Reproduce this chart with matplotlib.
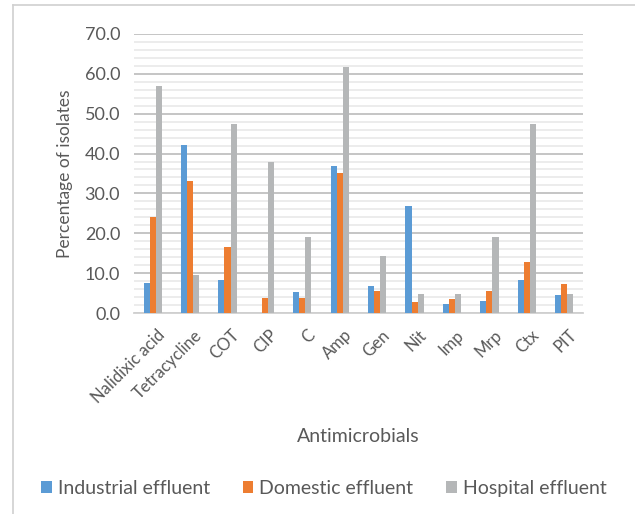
import matplotlib.pyplot as plt
import matplotlib.transforms as mtrans
import numpy as np
from matplotlib.lines import Line2D
from matplotlib.ticker import MultipleLocator, FormatStrFormatter

plt.rcParams['font.family'] = ['Lato', 'DejaVu Sans']

drugs = ['Nalidixic acid', 'Tetracycline', 'COT', 'CIP', 'C', 'Amp',
         'Gen', 'Nit', 'Imp', 'Mrp', 'Ctx', 'PIT']
industrial = [7.6, 42.1, 8.4, 0.0, 5.3, 36.8, 6.8, 26.8, 2.3, 3.0, 8.4, 4.5]
domestic = [24.0, 33.1, 16.6, 3.7, 3.7, 35.1, 5.5, 2.8, 3.6, 5.5, 12.9, 7.3]
hospital = [57.0, 9.5, 47.4, 37.9, 19.0, 61.8, 14.2, 4.7, 4.7, 19.0, 47.4, 4.7]

series = [('Industrial effluent', industrial, '#5B9BD5'),
          ('Domestic effluent', domestic, '#ED7D31'),
          ('Hospital effluent', hospital, '#B5B7B8')]

txt = '#595959'

fig = plt.figure(figsize=(6.35, 5.14), dpi=100)
ax = fig.add_axes([0.211, 0.391, 0.707, 0.543])

x = np.arange(len(drugs))
w = 0.163
for i, (name, vals, col) in enumerate(series):
    ax.bar(x + (i - 1) * w, vals, w, color=col, label=name, zorder=3)

ax.set_xlim(-0.5, len(drugs) - 0.5)
ax.set_ylim(0, 70)
ax.yaxis.set_major_locator(MultipleLocator(10))
ax.yaxis.set_minor_locator(MultipleLocator(2))
ax.yaxis.set_major_formatter(FormatStrFormatter('%.1f'))
ax.grid(which='major', axis='y', color='#C0C0C0', lw=1.3, zorder=0)
ax.grid(which='minor', axis='y', color='#EAEAEA', lw=1.3, zorder=0)
for s in ['top', 'right', 'left']:
    ax.spines[s].set_visible(False)
ax.spines['bottom'].set_color('#D0D0D0')
ax.spines['bottom'].set_linewidth(1.3)
ax.tick_params(which='both', length=0)
ax.tick_params(axis='y', labelsize=13, colors=txt, pad=10)
ax.set_xticks(x)
ax.set_xticklabels(drugs, rotation=45, ha='right', rotation_mode='anchor',
                   fontsize=12, color=txt)
ax.tick_params(axis='x', pad=10)
shift = mtrans.ScaledTranslation(4 / 100, 0, fig.dpi_scale_trans)
for lab in ax.get_xticklabels():
    lab.set_transform(lab.get_transform() + shift)
ax.set_ylabel('Percentage of isolates', fontsize=12.5, color=txt, labelpad=8)
ax.set_xlabel('Antimicrobials', fontsize=14, color=txt, labelpad=16)

leg = fig.legend(loc='center', bbox_to_anchor=(0.51, 0.05), ncol=3,
                 frameon=False, fontsize=14, handlelength=0.55,
                 handleheight=0.55, handletextpad=0.3, columnspacing=1.7)
for t in leg.get_texts():
    t.set_color(txt)

# outer frame (left and top edges visible in the reference)
fig.add_artist(Line2D([13 / 635, 13 / 635], [0, 1 - 5 / 514],
                      transform=fig.transFigure, color='#D0D0D0', lw=1.2))
fig.add_artist(Line2D([13 / 635, 1], [1 - 5 / 514, 1 - 5 / 514],
                      transform=fig.transFigure, color='#D0D0D0', lw=1.2))

fig.savefig('out.png', dpi=100)
